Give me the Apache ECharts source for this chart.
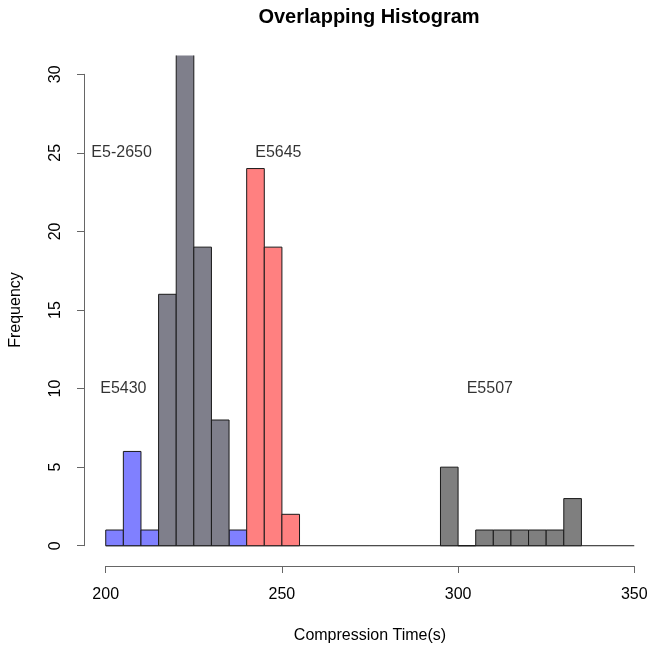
<!DOCTYPE html>
<html>
<head>
<meta charset="utf-8">
<title>Overlapping Histogram</title>
<script src="https://cdn.jsdelivr.net/npm/echarts@6/dist/echarts.min.js"></script>
<style>
  html, body { margin: 0; padding: 0; background: #ffffff; }
  #chart { width: 647px; height: 648px; }
</style>
</head>
<body>
<div id="chart"></div>
<script>
// Histogram bins: each bar spans [start, start + binWidth)
const binWidth = 5;

const e5430Bins   = [200, 205, 210, 235];
const e5430Counts = [1, 6, 1, 1];

const e52650Bins   = [215, 220, 225, 230];
const e52650Counts = [16, 32, 19, 8];

const e5645Bins   = [240, 245, 250];
const e5645Counts = [24, 19, 2];

const e5507Bins   = [295, 300, 305, 310, 315, 320, 325, 330];
const e5507Counts = [5, 0, 1, 1, 1, 1, 1, 3];

// Series annotations
const labelNames = ['E5-2650', 'E5645', 'E5430', 'E5507'];
const labelX     = [204.5, 249, 205, 309];
const labelY     = [25, 25, 10, 10];

// Axis ranges and ticks
const xStart = 200, xEnd = 350, xStep = 50;
const yStart = 0, yEnd = 30, yStep = 5;

const FONT = '"Liberation Sans", Arial, sans-serif';

const pad = 0.04; // plot region margin around the data range
const xPad = (xEnd - xStart) * pad;
const yPad = (yEnd - yStart) * pad;

function pairs(bins, counts) {
  return bins.map((b, i) => [b, counts[i]]);
}

function renderBin(params, api) {
  const x0 = api.value(0);
  const y = api.value(1);
  const p0 = api.coord([x0, y]);
  const p1 = api.coord([x0 + binWidth, 0]);
  return {
    type: 'rect',
    shape: { x: p0[0], y: p0[1], width: p1[0] - p0[0], height: p1[1] - p0[1] },
    style: { fill: api.visual('color'), stroke: '#1a1a1a', lineWidth: 1 }
  };
}

function histSeries(name, bins, counts, color) {
  return {
    name: name,
    type: 'custom',
    xAxisIndex: 0,
    yAxisIndex: 0,
    clip: true,
    renderItem: renderBin,
    itemStyle: { color: color },
    encode: { x: 0, y: 1 },
    data: pairs(bins, counts),
    silent: true
  };
}

const chart = echarts.init(document.getElementById('chart'), null, { renderer: 'canvas' });

const option = {
  animation: false,
  backgroundColor: '#ffffff',
  textStyle: { fontFamily: FONT },
  title: {
    text: 'Overlapping Histogram',
    left: 364,
    top: 2,
    textAlign: 'center',
    textStyle: { fontFamily: FONT, fontSize: 20, fontWeight: 'bold', color: '#000' }
  },
  grid: [
    // plot region (extends slightly past the right edge of the canvas)
    { left: 84.6, width: 570.8, top: 55.4, height: 509.2, containLabel: false, outerBoundsMode: 'none' },
    // x axis strip
    { left: 105.7, width: 528.6, top: 565, height: 1, containLabel: false, outerBoundsMode: 'none' },
    // y axis strip
    { left: 84, width: 1, top: 74.3, height: 471.4, containLabel: false, outerBoundsMode: 'none' }
  ],
  xAxis: [
    { gridIndex: 0, type: 'value', min: xStart - xPad, max: xEnd + xPad, show: false },
    {
      gridIndex: 1, type: 'value', min: xStart, max: xEnd, interval: xStep,
      position: 'bottom',
      axisLine: { show: true, lineStyle: { color: '#666', width: 1 } },
      axisTick: { show: true, length: 7, lineStyle: { color: '#666', width: 1 } },
      axisLabel: { show: true, margin: 21, fontSize: 16, color: '#000', fontFamily: FONT },
      splitLine: { show: false },
      name: 'Compression Time(s)',
      nameLocation: 'middle',
      nameGap: 62,
      nameTextStyle: { fontSize: 16, color: '#000', fontFamily: FONT }
    },
    { gridIndex: 2, type: 'value', show: false }
  ],
  yAxis: [
    { gridIndex: 0, type: 'value', min: yStart - yPad, max: yEnd + yPad, show: false },
    { gridIndex: 1, type: 'value', show: false },
    {
      gridIndex: 2, type: 'value', min: yStart, max: yEnd, interval: yStep,
      position: 'left',
      axisLine: { show: true, lineStyle: { color: '#666', width: 1 } },
      axisTick: { show: true, length: 7, lineStyle: { color: '#666', width: 1 } },
      axisLabel: { show: true, rotate: 90, margin: 20, fontSize: 16, color: '#000', fontFamily: FONT },
      splitLine: { show: false },
      name: 'Frequency',
      nameLocation: 'middle',
      nameGap: 60,
      nameTextStyle: { fontSize: 16, color: '#000', fontFamily: FONT }
    }
  ],
  series: [
    // baseline under all bins
    {
      type: 'line',
      xAxisIndex: 0,
      yAxisIndex: 0,
      data: [[xStart, 0], [xEnd, 0]],
      symbol: 'none',
      lineStyle: { color: '#1a1a1a', width: 1 },
      silent: true,
      z: 1
    },
    histSeries('E5430', e5430Bins, e5430Counts, '#8080ff'),
    histSeries('E5-2650', e52650Bins, e52650Counts, '#7f7f8b'),
    histSeries('E5645', e5645Bins, e5645Counts, '#ff8080'),
    histSeries('E5507', e5507Bins, e5507Counts, '#7f7f7f'),
    // series name annotations
    {
      type: 'scatter',
      xAxisIndex: 0,
      yAxisIndex: 0,
      symbolSize: 0,
      silent: true,
      data: labelNames.map((n, i) => ({ name: n, value: [labelX[i], labelY[i]] })),
      label: {
        show: true,
        position: 'inside',
        formatter: p => p.name,
        fontSize: 16,
        color: '#000',
        fontFamily: FONT
      }
    }
  ]
};

chart.setOption(option);
</script>
</body>
</html>
